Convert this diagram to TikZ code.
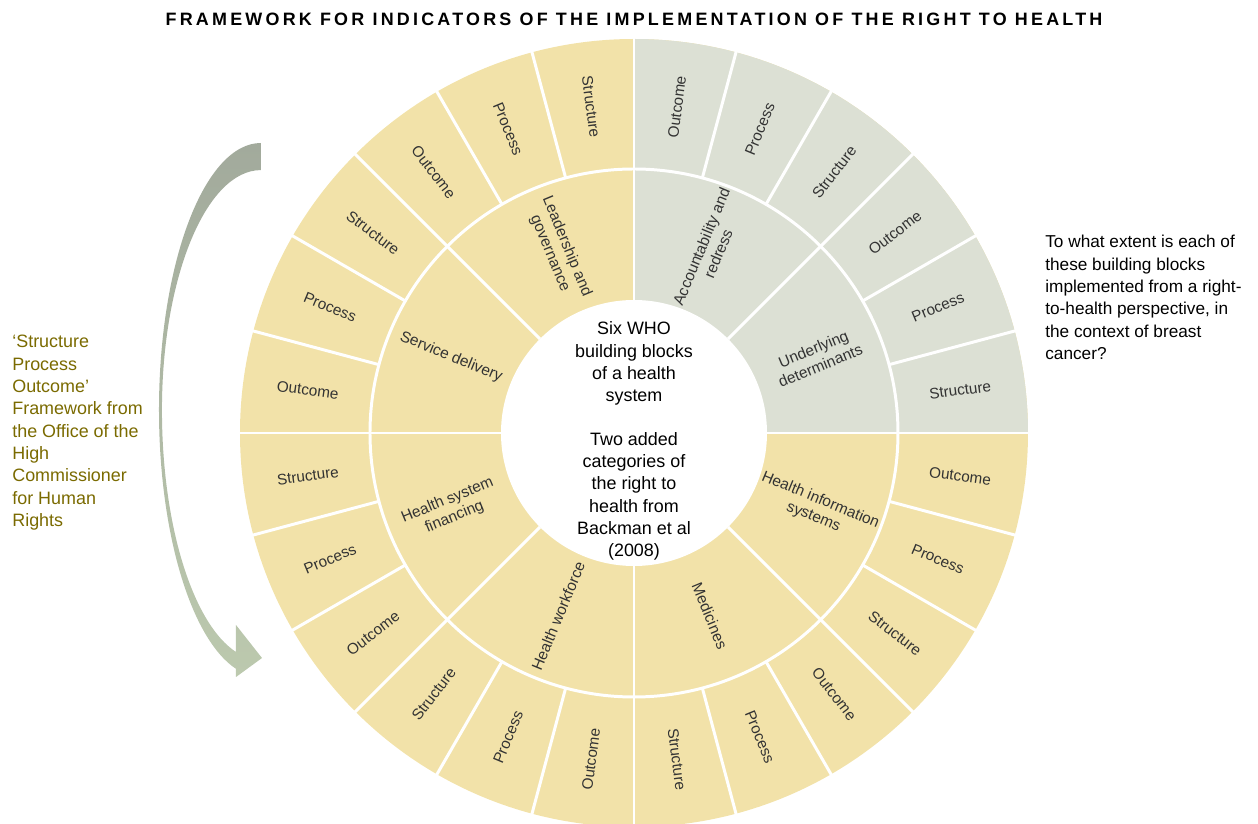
\documentclass[tikz,border=0pt]{standalone}
\usepackage{fontspec}
\setmainfont{Liberation Sans}
\newfontfamily\titlefont{Liberation Sans}[LetterSpace=18]
\usepackage{xcolor}
\definecolor{wheat}{HTML}{F2E2A9}
\definecolor{sage}{HTML}{DCE0D4}
\definecolor{inktext}{HTML}{333333}
\definecolor{sponote}{HTML}{7A6A00}
\definecolor{arrowtop}{HTML}{A2AA9C}
\definecolor{arrowbot}{HTML}{BCC9AE}
\newcommand{\ringlabel}[5] {
    \pgfmathsetmacro{\turn}{(#3>90 && #3<270) ? #3-180 : #3}
    \node[#1,rotate=\turn] (#2) at (#3:#4) {#5};
}
\newcommand{\wheel} {
    \fill[wheat] (0,0) circle (394);
    \fill[sage] (0,0) -- (0:394) arc (0:90:394) -- cycle;
    \foreach \a in {0,15,...,345}
        \draw[sep] (\a:264) -- (\a:396);
    \foreach \a in {0,45,...,315}
        \draw[sep] (\a:133) -- (\a:264);
    \draw[sep] (0,0) circle (264);
    \fill[white] (0,0) circle (133);
}

\begin{document}
\begin{tikzpicture}[
        x=0.02cm,
        y=0.02cm,
        sep/.style={white,line width=1.7pt},
        outer/.style={text=inktext,inner sep=0,font=\fontsize{8.7}{10}\selectfont},
        inner/.style={outer,align=center,font=\fontsize{8.8}{10.4}\selectfont},
        note/.style={anchor=north west,align=left,inner sep=0,font=\fontsize{10}{12.7}\selectfont},
    ]
        \useasboundingbox (-634,-391) rectangle (624,433);
        \wheel
        \foreach \k in {0,...,7}
            \foreach \t [count=\j] in {Structure,Process,Outcome} {
                \pgfmathsetmacro{\a}{45*\k+15*\j-7.5}
                \ringlabel{outer}{cell-\k-\j}{\a}{329}{\t}
            }
        \foreach \t [count=\k] in {Underlying\\determinants,Accountability and\\redress,
                Leadership and\\governance,Service delivery,Health system\\financing,
                Health workforce,Medicines,Health information\\systems} {
            \pgfmathsetmacro{\a}{45*\k-22.5}
            \ringlabel{inner}{block-\k}{\a}{198}{\t}
        }
        \node[align=center,inner sep=0,font=\fontsize{10.2}{12.6}\selectfont] (hub) at (0,-8)
            {Six WHO\\building blocks\\of a health\\system\\[12.6pt]Two added\\categories of\\the right to\\health from\\Backman et al\\(2008)};
        \shade[top color=arrowtop,bottom color=arrowbot]
            (-373,290) arc[start angle=90,end angle=255.8,x radius=102,y radius=267]
            -- (-398,-244) -- (-372,-225) -- (-398,-192) -- (-398,-219)
            arc[start angle=255.4,end angle=180,x radius=99,y radius=250]
            arc[start angle=180,end angle=90,x radius=99,y radius=240] -- cycle;
        \node[note,text=sponote,font=\fontsize{10.2}{12.7}\selectfont] (spo) at (-622,98)
            {`Structure\\Process\\Outcome'\\Framework from\\the Office of the\\High\\Commissioner\\for Human\\Rights};
        \node[note,font=\fontsize{9.8}{12.7}\selectfont] (question) at (411,198)
            {To what extent is each of\\these building blocks\\implemented from a right-\\to-health perspective, in\\the context of breast\\cancer?};
        \node[font=\titlefont\bfseries\fontsize{10.2}{12}\selectfont] (title) at (0,414)
            {FRAMEWORK FOR INDICATORS OF THE IMPLEMENTATION OF THE RIGHT TO HEALTH};
    \end{tikzpicture}
\end{document}
